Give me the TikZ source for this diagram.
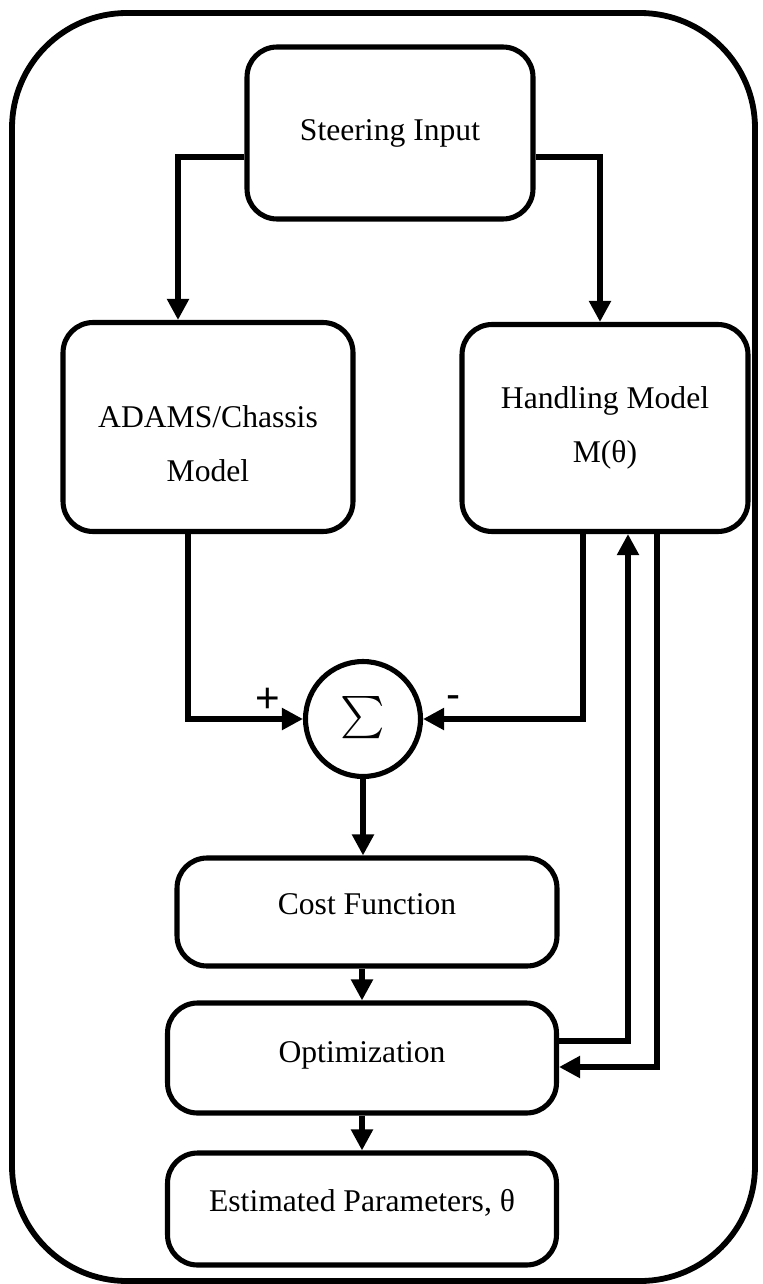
\documentclass[tikz,border=0pt]{standalone}
\usepackage{fontspec}
\usepackage{graphicx}
\setmainfont{Liberation Serif}
\newfontfamily\signfont{Liberation Sans}
\usetikzlibrary{arrows.meta}

\begin{document}
\begin{tikzpicture}[x=0.02cm,y=-0.02cm,
    blk/.style={rectangle,rounded corners=0.6cm,draw=black,line width=2.9pt,
      align=center,font=\fontsize{18}{31}\selectfont},
    flow/.style={draw=black,line width=2.9pt,
      -{Triangle[length=0.42cm,width=0.42cm]}},
    wire/.style={draw=black,line width=2.9pt}]
        \useasboundingbox (0,0) rectangle (762,1284);
        \draw[line width=3.3pt,rounded corners=2.3cm] (12,13) rectangle (755,1281);
        \begin{scope}[every node/.style={blk}]
          \node[minimum width=5.72cm,minimum height=3.44cm] (steer) at (390,133) {Steering Input};
          \node[minimum width=5.8cm,minimum height=4.18cm]  (adams) at (208,427) {\rule{0pt}{1.1cm}ADAMS/Chassis\\Model};
          \node[minimum width=5.72cm,minimum height=4.14cm] (hand)  at (605,428) {Handling Model\\M(θ)};
          \node[circle,minimum size=2.3cm,inner sep=0pt]    (sum)   at (363,719) {\raisebox{0.1cm}{\scalebox{2.4}{$\sum$}}};
          \node[minimum width=7.6cm,minimum height=2.16cm]  (cost)  at (367,912) {Cost Function\rule[-0.3cm]{0pt}{0.3cm}};
          \node[minimum width=7.78cm,minimum height=2.2cm]  (opt)   at (362,1058) {Optimization\rule[-0.25cm]{0pt}{0.25cm}};
          \node[minimum width=7.78cm,minimum height=2.24cm] (est)   at (362,1209) {Estimated Parameters, θ\rule[-0.35cm]{0pt}{0.35cm}};
        \end{scope}
        \node[font=\signfont\fontsize{24}{26}\selectfont] (plus)  at (268,700) {+};
        \node[font=\signfont\fontsize{24}{26}\selectfont] (minus) at (454,702) {-};
        % steering input to both models
        \draw[flow] ([yshift=-0.48cm]steer.west) -| ([xshift=-0.6cm]adams.north);
        \draw[flow] ([yshift=-0.48cm]steer.east) -| ([xshift=-0.1cm]hand.north);
        % outputs into the summing junction
        \draw[flow] ([xshift=-0.4cm]adams.south) |- (sum.west);
        \draw[flow] ([xshift=-0.44cm]hand.south) |- (sum.east);
        \draw[flow] (sum.south) -- (sum.south |- cost.north);
        \draw[flow] (opt.north |- cost.south) -- (opt.north);
        \draw[flow] (opt.south) -- (est.north);
        % parameter loop
        \draw[flow] ([yshift=0.34cm]opt.east) -| ([xshift=0.46cm]hand.south);
        \draw[flow] ([xshift=1.04cm]hand.south) |- ([yshift=-0.18cm]opt.east);
      \end{tikzpicture}
\end{document}
